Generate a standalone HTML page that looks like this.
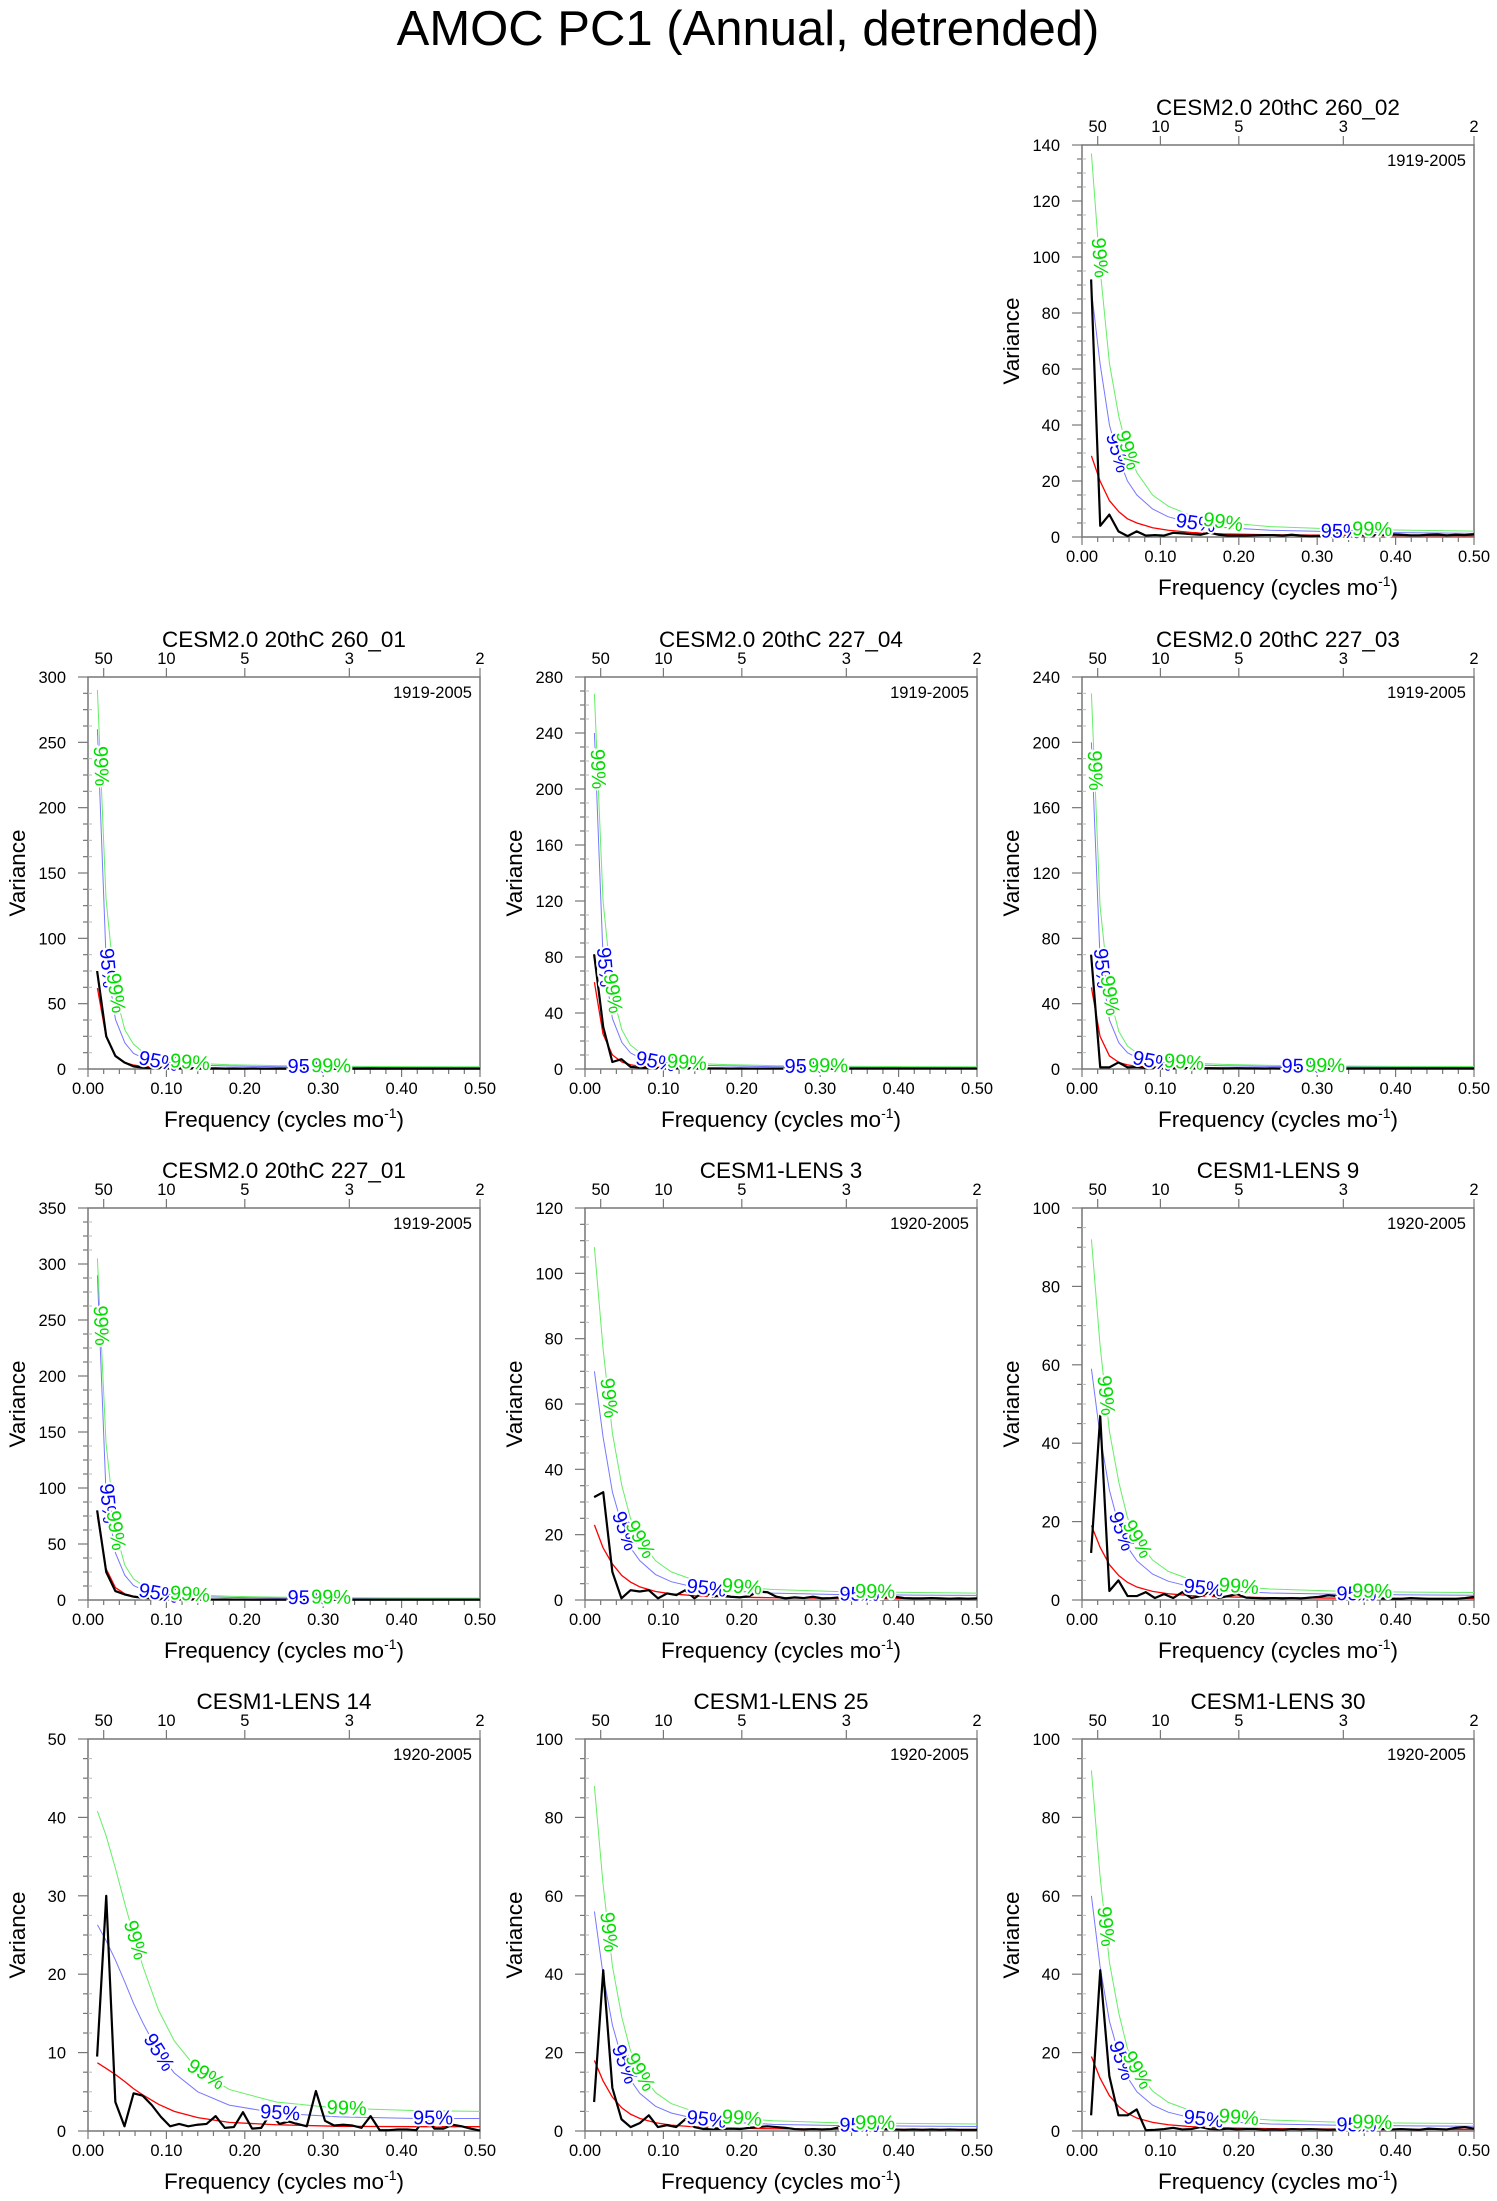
<!DOCTYPE html>
<html><head><meta charset="utf-8">
<style>
html,body{margin:0;padding:0;background:#fff;}
svg{display:block;font-family:"Liberation Sans",Arial,sans-serif;}
</style></head>
<body>
<svg id="fig" width="1497" height="2201" viewBox="0 0 1497 2201">
<text x="748" y="45" text-anchor="middle" font-size="49">AMOC PC1 (Annual, detrended)</text>
</svg>
<script>
const titles = ["CESM2.0 20thC 260_02","CESM2.0 20thC 260_01","CESM2.0 20thC 227_04","CESM2.0 20thC 227_03","CESM2.0 20thC 227_01","CESM1-LENS 3","CESM1-LENS 9","CESM1-LENS 14","CESM1-LENS 25","CESM1-LENS 30"];
const years = ["1919-2005","1919-2005","1919-2005","1919-2005","1919-2005","1920-2005","1920-2005","1920-2005","1920-2005","1920-2005"];
const yMax = [140,300,280,240,350,120,100,50,100,100];
const yStep = [20,50,40,40,50,20,20,10,20,20];
const xTicks = [0,0.1,0.2,0.3,0.4,0.5];
const xTickLabels = ["0.00","0.10","0.20","0.30","0.40","0.50"];
const periods = [50,10,5,3,2];
const curveF = [0.012,0.023,0.035,0.047,0.058,0.07,0.09,0.11,0.14,0.18,0.24,0.32,0.42,0.5];
const nFreq = 43;
const black = [
[92,4,8,2,0.3,2,0.5,0.7,0.5,1.5,1.3,1,0.8,1.6,0.8,0.5,0.5,0.5,0.6,0.7,0.7,0.5,0.8,0.5,0.3,0.4,0.3,1.6,1.7,1.2,0.5,0.6,0.8,1,0.8,0.6,0.6,0.8,0.9,0.6,0.8,0.7,1],
[75,25,10,5,2,1,0.8,1,0.5,0.6,0.5,0.4,0.4,0.5,0.3,0.4,0.3,0.4,0.3,0.3,0.4,0.3,0.3,0.3,0.4,0.3,0.3,0.3,0.3,0.3,0.4,0.3,0.3,0.3,0.3,0.3,0.3,0.3,0.3,0.3,0.3,0.3,0.3],
[82,30,5,7,1.5,1,0.8,0.6,0.5,0.5,0.5,0.4,0.4,0.4,0.4,0.3,0.4,0.3,0.3,0.3,0.3,0.3,0.3,0.4,0.3,0.3,0.3,0.3,0.3,0.3,0.3,0.3,0.3,0.3,0.3,0.3,0.3,0.3,0.3,0.3,0.3,0.3,0.3],
[70,1,1,4,1,1.2,0.6,0.8,0.5,0.6,0.5,0.6,0.4,0.5,0.4,0.4,0.5,0.4,0.4,0.3,0.4,0.3,0.3,0.5,0.3,0.3,0.3,0.3,0.3,0.3,0.3,0.3,0.3,0.3,0.3,0.3,0.3,0.3,0.3,0.3,0.3,0.3,0.3],
[80,25,8,5,3,2,1.5,1,1,0.8,0.6,0.5,0.5,0.4,0.5,0.4,0.4,0.3,0.3,0.3,0.3,0.3,0.3,0.3,0.3,0.3,0.3,0.3,0.3,0.3,0.3,0.3,0.3,0.3,0.3,0.3,0.3,0.3,0.3,0.3,0.3,0.3,0.3],
[31.5,33,8.6,0.5,3,2.6,3,0.5,2,1.5,3,0.5,2.5,1,1.5,1,0.8,1.2,2.6,2.4,1,0.5,0.8,0.6,1,0.5,0.6,0.8,0.5,0.4,0.6,0.5,0.8,1,0.6,0.5,0.5,0.6,0.5,0.4,0.5,0.4,0.5],
[12,47,2.3,5,1,1,2,0.5,1.5,0.5,2,0.5,1,2,0.5,1,1.5,0.6,0.5,0.4,0.5,0.4,0.5,0.4,0.6,0.8,1.2,1,0.6,0.3,0.3,0.3,0.4,0.3,0.3,0.5,0.4,0.3,0.3,0.3,0.3,0.5,0.8],
[9.5,30,3.7,0.6,4.8,4.5,3.3,1.8,0.6,0.9,0.6,0.8,0.9,1.9,0.4,0.5,2.4,0.3,0.4,2.2,0.9,1.2,0.9,0.6,5.1,1.3,0.7,0.8,0.7,0.4,1.9,0.1,0.1,0.2,0.2,0.1,1.7,0.3,0.3,0.8,0.6,0.3,0.05],
[7.4,41,11,3,1,2,4,1,1.5,1,3,1,0.5,0.5,0.5,0.6,0.5,0.8,1,1.2,1,0.8,0.5,0.4,0.5,0.4,0.5,1,1.5,0.8,0.5,0.4,0.5,0.4,0.3,0.4,0.3,0.4,0.3,0.4,0.3,0.3,0.3],
[4,41,14,4,4,5.5,0.2,0.3,0.5,0.8,0.4,0.5,1,0.5,0.4,0.6,0.4,0.5,0.5,0.3,0.4,0.3,0.5,0.4,0.5,0.4,0.3,0.4,0.5,0.3,0.4,0.3,0.5,0.4,0.5,0.4,0.3,0.6,0.5,0.4,0.8,1,0.6]
];
const red = [
[29,20,13,9,6.5,5,3.3,2.4,1.6,1.1,0.8,0.6,0.5,0.45],
[62,25,10,5,3,2,1.3,1,0.8,0.6,0.5,0.4,0.35,0.3],
[62,25,10,5,3,2,1.3,1,0.8,0.6,0.5,0.4,0.35,0.3],
[50,20,8,4,2.5,1.7,1.2,0.9,0.7,0.6,0.5,0.4,0.35,0.3],
[75,28,11,5.5,3.3,2.2,1.4,1.1,0.9,0.7,0.5,0.4,0.35,0.3],
[23,16,11,7.5,5.5,4,2.6,1.9,1.3,0.9,0.7,0.55,0.5,0.45],
[19,13.5,9,6.2,4.5,3.3,2.2,1.6,1.1,0.8,0.6,0.5,0.42,0.4],
[8.7,8,7.2,6.3,5.4,4.6,3.4,2.5,1.7,1.1,0.8,0.6,0.55,0.55],
[18,12.8,8.6,5.9,4.3,3.2,2.1,1.5,1.05,0.75,0.57,0.46,0.4,0.38],
[19,13.5,9,6.2,4.5,3.3,2.2,1.6,1.1,0.8,0.6,0.5,0.42,0.4]
];
const blue95 = [
[88,62,40,28,20,15,10,7.2,5,3.4,2.4,1.9,1.5,1.3],
[260,85,38,20,12,8.5,5.5,4,3,2.3,1.8,1.5,1.3,1.2],
[240,80,36,19,11.5,8,5,3.7,2.8,2.2,1.7,1.4,1.2,1.1],
[200,68,30,16,10,7,4.5,3.3,2.5,2,1.6,1.3,1.2,1.1],
[290,95,42,22,13,9,5.5,4,3,2.3,1.8,1.5,1.3,1.2],
[70,50,33,23,16,12,7.8,5.6,3.9,2.8,2.1,1.7,1.5,1.4],
[59,42,28,19,13.5,10,6.6,4.8,3.3,2.4,1.8,1.5,1.3,1.2],
[26.3,24.3,21.8,19,16.3,13.8,10,7.4,5,3.3,2.3,1.8,1.6,1.6],
[56,40,27,18.5,13,9.6,6.3,4.6,3.2,2.3,1.7,1.4,1.25,1.15],
[60,42,28,19.5,13.7,10,6.6,4.8,3.3,2.4,1.8,1.5,1.3,1.2]
];
const green99 = [
[137,96,62,43,31,23,15,11,7.6,5.2,3.7,2.9,2.4,2.1],
[290,130,58,30,19,13,8,5.8,4.3,3.3,2.6,2.1,1.8,1.7],
[268,120,54,28,17,12,7.3,5.3,4,3.1,2.4,2,1.7,1.6],
[230,100,45,23,14,10,6.5,4.7,3.6,2.8,2.2,1.8,1.6,1.5],
[305,140,62,31,19,13,8,5.8,4.3,3.3,2.6,2.1,1.8,1.7],
[108,77,51,35,25,18.5,12,8.6,6,4.3,3.2,2.6,2.3,2.1],
[92,65,43,30,21,15.5,10.2,7.3,5.1,3.7,2.8,2.3,2,1.9],
[40.8,37.7,33.5,29,25,21,15.4,11.5,7.8,5.3,3.7,2.9,2.6,2.5],
[88,63,42,29,20.5,15,9.8,7,4.9,3.5,2.6,2.1,1.9,1.8],
[92,65,43,30,21,15.5,10.2,7.3,5.1,3.7,2.8,2.3,2,1.9]
];
const greenLabelF = [[0.022,0.058,0.18,0.37],[0.016,0.035,0.13,0.31],[0.016,0.035,0.13,0.31],[0.016,0.035,0.13,0.31],[0.016,0.035,0.13,0.31],[0.03,0.07,0.2,0.37],[0.03,0.07,0.2,0.37],[0.06,0.15,0.33],[0.03,0.07,0.2,0.37],[0.03,0.07,0.2,0.37]];
const blueLabelF = [[0.045,0.145,0.33],[0.025,0.09,0.28],[0.025,0.09,0.28],[0.025,0.09,0.28],[0.025,0.09,0.28],[0.05,0.155,0.35],[0.05,0.155,0.35],[0.09,0.245,0.44],[0.05,0.155,0.35],[0.05,0.155,0.35]];
const panelPos = [[2,0],[0,1],[1,1],[2,1],[0,2],[1,2],[2,2],[0,3],[1,3],[2,3]];

const svg = document.getElementById('fig');
const NS = 'http://www.w3.org/2000/svg';
const colX = [88,585,1082], rowY = [145,677,1208,1739], W = 392, H = 392;
function mk(tag, attrs, parent){const e=document.createElementNS(NS,tag);for(const k in attrs)e.setAttribute(k,attrs[k]);parent.appendChild(e);return e;}
function interp(arr,f){
  if(f<=curveF[0])return arr[0];
  for(let i=1;i<curveF.length;i++){if(f<=curveF[i]){const t=(f-curveF[i-1])/(curveF[i]-curveF[i-1]);return arr[i-1]+t*(arr[i]-arr[i-1]);}}
  return arr[arr.length-1];
}
for(let p=0;p<titles.length;p++){
  const L=colX[panelPos[p][0]], T=rowY[panelPos[p][1]];
  const g=mk('g',{},svg);
  
  
  const sx=f=>L+f/0.5*W;
  const sy=v=>T+H-Math.min(v,yMax[p])/yMax[p]*H;
  const t=mk('text',{x:L+W/2,y:T-30,'text-anchor':'middle','font-size':22.5},g);t.textContent=titles[p];
  
  
  const fr=mk('rect',{x:L,y:T,width:W,height:H,fill:'none',stroke:'#777','stroke-width':1.5},g);
  
  
  const minorStep=yStep[p]/4;
  for(let v=0;v<=yMax[p]+1e-9;v+=minorStep){
    const major=Math.abs(v/yStep[p]-Math.round(v/yStep[p]))<1e-6;
    const y=sy(v);
    mk('line',{x1:L-(major?10:5),y1:y,x2:L,y2:y,stroke:'#777','stroke-width':1.2},g);
    if(!major) mk('line',{x1:L,y1:y,x2:L+4,y2:y,stroke:'#bbb','stroke-width':1},g);
    if(major){const lt=mk('text',{x:L-22,y:y+6,'text-anchor':'end','font-size':16.5},g);lt.textContent=String(Math.round(v));
      
      }
  }
  for(let i=0;i<=25;i++){
    const f=i*0.02, x=sx(f), major=i%5===0;
    mk('line',{x1:x,y1:T+H,x2:x,y2:T+H+(major?8:5),stroke:'#777','stroke-width':1.2},g);
  }
  xTicks.forEach((f,i)=>{const lt=mk('text',{x:sx(f),y:T+H+25,'text-anchor':'middle','font-size':16.5},g);lt.textContent=xTickLabels[i];
    
    });
  periods.forEach(per=>{const x=sx(1/per);mk('line',{x1:x,y1:T-9,x2:x,y2:T,stroke:'#777','stroke-width':1.2},g);
    const lt=mk('text',{x:x,y:T-13,'text-anchor':'middle','font-size':16.5},g);lt.textContent=String(per);
    
    });
  const yr=mk('text',{x:L+W-8,y:T+21,'text-anchor':'end','font-size':16.5},g);yr.textContent=years[p];
  
  
  const yt=mk('text',{x:0,y:0,'text-anchor':'middle','font-size':22.5,transform:`translate(${L-63},${T+H/2}) rotate(-90)`},g);yt.textContent='Variance';
  
  
  const xt=mk('text',{x:L+W/2,y:T+H+58,'text-anchor':'middle','font-size':22.5},g);
  
  
  xt.innerHTML='Frequency (cycles mo<tspan dy="-9" font-size="14">-1</tspan><tspan dy="9">)</tspan>';
  const curves=[[red[p],'#ff0000',1.3,'red-noise-curve'],[blue95[p],'#7777ff',1,'confidence-95-curve'],[green99[p],'#66ee66',1,'confidence-99-curve']];
  curves.forEach(c=>{const pts=curveF.map((f,i)=>sx(f)+','+sy(c[0][i])).join(' ');
    const pl=mk('polyline',{points:pts,fill:'none',stroke:c[1],'stroke-width':c[2]},g);
    
    });
  const bpts=black[p].map((v,i)=>sx((i+1)/(2*nFreq))+','+sy(v)).join(' ');
  const bl=mk('polyline',{points:bpts,fill:'none',stroke:'#000','stroke-width':2.2,'stroke-linejoin':'round'},g);
  
  
  const labs=[[blue95[p],blueLabelF[p],'95%','#0000ff'],[green99[p],greenLabelF[p],'99%','#00dd00']];
  labs.forEach(lb=>{lb[1].forEach(f=>{
    const x=sx(f), y=sy(interp(lb[0],f));
    const dx=sx(f+0.004)-sx(f-0.004), dy=sy(interp(lb[0],f+0.004))-sy(interp(lb[0],Math.max(0.012,f-0.004)));
    let ang=Math.atan2(dy,dx)*180/Math.PI;
    const tx=mk('text',{x:0,y:6,'text-anchor':'middle','font-size':20,fill:lb[3],stroke:'#fff','stroke-width':4,'paint-order':'stroke',transform:`translate(${x},${y}) rotate(${ang})`},g);
    tx.textContent=lb[2];
    
    
  });});
}
</script>
</body></html>
